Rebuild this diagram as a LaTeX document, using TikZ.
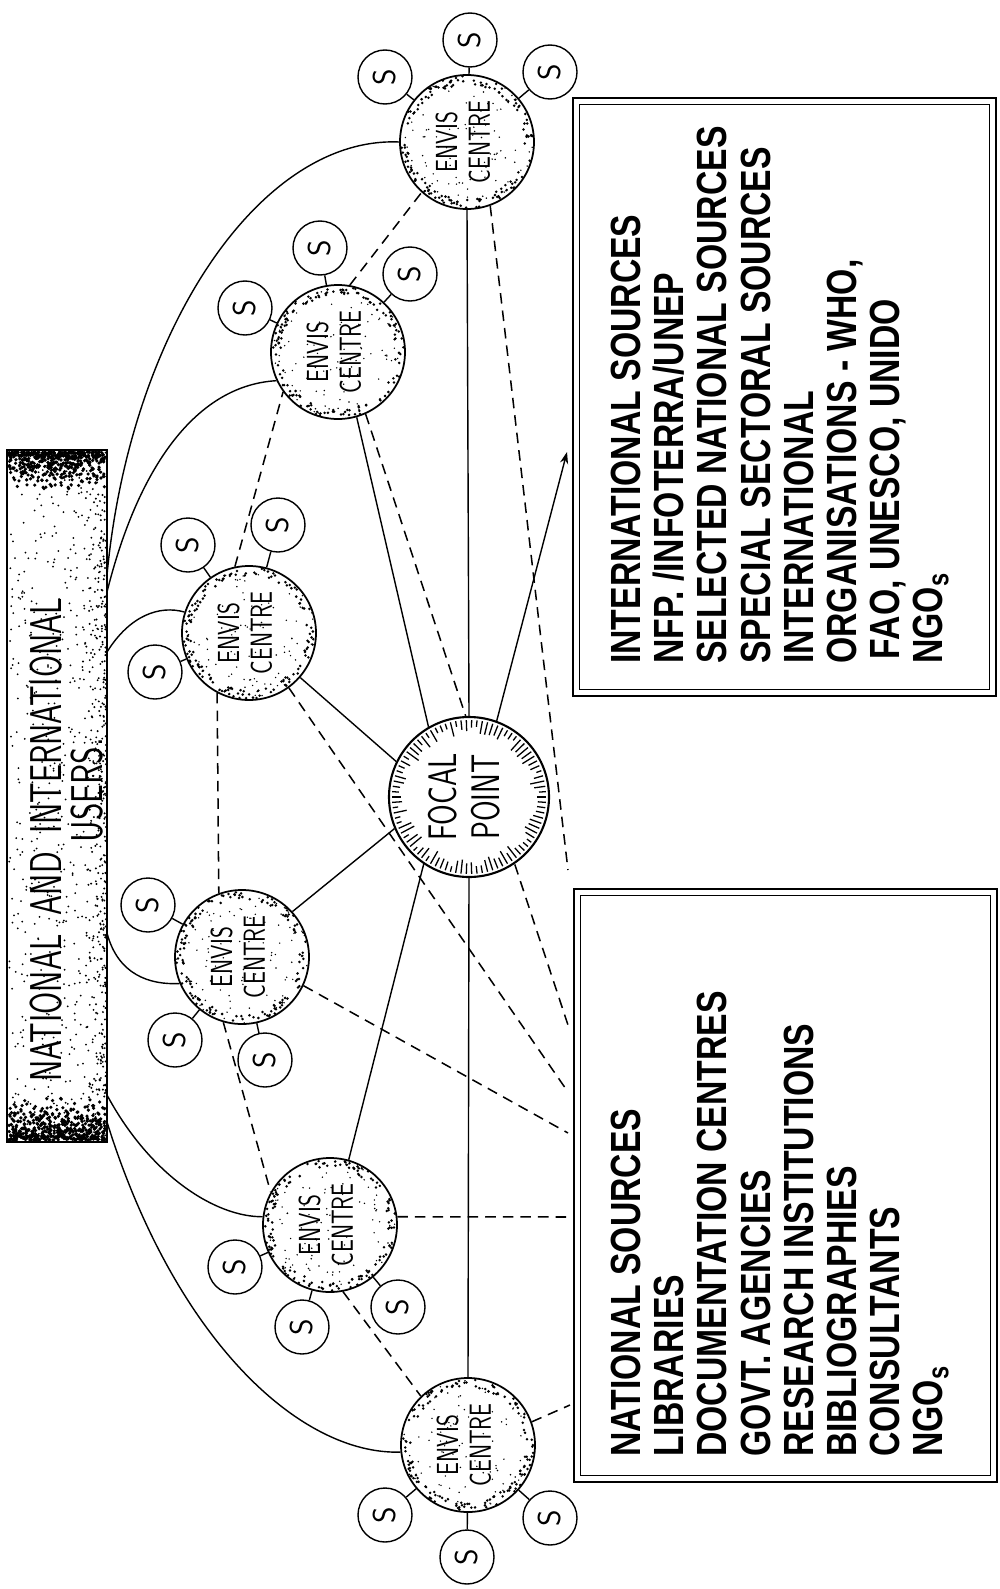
\documentclass[tikz,border=0pt]{standalone}
\usepackage{fontspec}
\usepackage{graphicx}
\usetikzlibrary{calc,arrows.meta}
\newfontfamily\boxfont[FakeStretch=0.8]{Liberation Sans}
\pgfdeclarelayer{conn}
\pgfsetlayers{conn,main}
\newcommand{\rimdots}[3]{%
  \foreach \k in {1,...,140}{%
    \pgfmathsetmacro{\aa}{360*rnd}%
    \pgfmathsetmacro{\rr}{#3*(1-0.13*rnd)}%
    \fill ({#1+\rr*cos(\aa)},{#2+\rr*sin(\aa)}) circle[radius=1.4];%
  }%
  \foreach \k in {1,...,90}{%
    \pgfmathsetmacro{\aa}{360*rnd}%
    \pgfmathsetmacro{\rr}{#3*sqrt(rnd)}%
    \fill ({#1+\rr*cos(\aa)},{#2+\rr*sin(\aa)}) circle[radius=0.8];%
  }}
\newcommand{\Srot}{\rotatebox{90}{S}}
\tikzset{
  ec/.style={circle, draw, line width=1.5pt, fill=white, minimum size=4.02cm, inner sep=0pt},
  sc/.style={circle, draw, line width=1.2pt, fill=white, minimum size=1.62cm, inner sep=0pt,
             font=\sffamily\fontsize{27}{27}\selectfont},
  fpc/.style={circle, draw, line width=1.8pt, fill=white, minimum size=4.8cm, inner sep=0pt},
  con/.style={line width=1.2pt},
  dsh/.style={line width=1.3pt, dash pattern=on 9pt off 6pt},
  etext/.style={rotate=90, inner sep=0pt, font=\sffamily\fontsize{26}{28}\selectfont},
  boxtext/.style={rotate=90, anchor=north west, align=left, inner sep=0pt,
                  font=\boxfont\bfseries\fontsize{36}{36.8}\selectfont},
  outerbox/.style={draw, line width=2.4pt, inner sep=0pt, minimum width=12.69cm},
}
\begin{document}
\begin{tikzpicture}[x=0.03cm, y=-0.03cm]
\useasboundingbox (0,0) rectangle (999,1589);
\pgfmathsetseed{7}

% ---------- boxes ----------
\node[draw, line width=1.5pt, minimum width=3cm, minimum height=20.76cm, inner sep=0pt] (users) at (57,796) {};
\node[outerbox, minimum height=17.94cm] (intbox) at (784.5,397) {};
\draw[line width=1.4pt] ($(intbox.north west)+(8,8)$) rectangle ($(intbox.south east)+(-8,-8)$);
\node[outerbox, minimum height=17.79cm] (natbox) at (785.5,1185.5) {};
\draw[line width=1.4pt] ($(natbox.north west)+(8,8)$) rectangle ($(natbox.south east)+(-8,-8)$);

% ---------- centres ----------
\node[ec] (e1) at (468,1445) {};
\node[ec] (e2) at (330,1225) {};
\node[ec] (e3) at (242,957) {};
\node[ec] (e4) at (249,633) {};
\node[ec] (e5) at (338,352) {};
\node[ec] (e6) at (467,142) {};
\node[fpc] (fp) at (469,797) {};

% ---------- sources ----------
\node[sc] (s1a) at (385,1515) {\Srot};
\node[sc] (s1b) at (467,1557) {\Srot};
\node[sc] (s1c) at (550,1518) {\Srot};
\node[sc] (s2a) at (235,1267) {\Srot};
\node[sc] (s2b) at (302,1327) {\Srot};
\node[sc] (s2c) at (398,1307) {\Srot};
\node[sc] (s3a) at (148,905) {\Srot};
\node[sc] (s3b) at (175,1040) {\Srot};
\node[sc] (s3c) at (265,1060) {\Srot};
\node[sc] (s4a) at (188,545) {\Srot};
\node[sc] (s4b) at (278,525) {\Srot};
\node[sc] (s4c) at (155,672) {\Srot};
\node[sc] (s5a) at (245,308) {\Srot};
\node[sc] (s5b) at (320,248) {\Srot};
\node[sc] (s5c) at (410,274) {\Srot};
\node[sc] (s6a) at (385,77) {\Srot};
\node[sc] (s6b) at (470,40) {\Srot};
\node[sc] (s6c) at (550,72) {\Srot};

% ---------- free ends ----------
\coordinate (u1) at (107,1122);
\coordinate (u2) at (107,1095);
\coordinate (u3) at (107,933);
\coordinate (u4) at (107,652);
\coordinate (u5) at (107,592);
\coordinate (u6) at (107,575);
\coordinate (c1) at (570,1405);
\coordinate (c2) at (570,1217);
\coordinate (c3) at (568,1133);
\coordinate (c4) at (568,1092);
\coordinate (c5) at (568,1025);
\coordinate (c6) at (568,870);
\coordinate (ia) at (567,452);

\begin{pgfonlayer}{conn}
% users curves
\draw[con] (u6) .. controls (130,330) and (260,136) .. (e6.west);
\draw[con] (u5) .. controls (140,460) and (200,385) .. (e5.205);
\draw[con] (u4) .. controls (130,615) and (160,605) .. (e4.162);
\draw[con] (u3) .. controls (118,975) and (150,985) .. (e3.203);
\draw[con] (u2) .. controls (150,1175) and (215,1217) .. (e2.173);
\draw[con] (u1) .. controls (175,1340) and (300,1455) .. (e1.186);
% focal point links
\draw[con] (e6.south) -- (fp.north);
\draw[con] (e5.286) -- (fp.120);
\draw[con] (e4.319) -- (fp.154);
\draw[con] (e3.42) -- (fp.203);
\draw[con] (fp.236) -- (e2.74);
\draw[con] (fp.south) -- (e1.north);
\draw[con, -{Stealth[length=10pt,width=7pt]}] (fp.70) -- (ia);
% dashed links between centres
\draw[dsh] (e4.242) -- (e3.110);
\draw[dsh] (e4.102) -- (e5.216);
\draw[dsh] (e5.80) -- (e6.228);
\draw[dsh] (e3.254) -- (e2.151);
\draw[dsh] (e2.281) -- (e1.134);
% dashed links to sources boxes
\draw[dsh] (e6.290) -- (c6);
\draw[dsh] (e5.294) -- (c5);
\draw[dsh] (e4.306) -- (c4);
\draw[dsh] (e3.335) -- (c3);
\draw[dsh] (e2.7) -- (c2);
\draw[dsh] (e1.20) -- (c1);
% stubs to sources
\foreach \e/\s in {e1/s1a,e1/s1b,e1/s1c,e2/s2a,e2/s2b,e2/s2c,e3/s3a,e3/s3b,e3/s3c,
                   e4/s4a,e4/s4b,e4/s4c,e5/s5a,e5/s5b,e5/s5c,e6/s6a,e6/s6b,e6/s6c}
  \draw[con] (\e) -- (\s);
\end{pgfonlayer}

% ---------- textures ----------
\rimdots{468}{1445}{66}
\rimdots{330}{1225}{66}
\rimdots{242}{957}{66}
\rimdots{249}{633}{66}
\rimdots{338}{352}{66}
\rimdots{467}{142}{66}
\foreach \a in {0,4,...,356}{%
  \pgfmathsetmacro{\ll}{5+10*rnd}%
  \draw[line width=1.1pt] ({469+77*cos(\a)},{797+77*sin(\a)}) -- ({469+(77-\ll)*cos(\a)},{797+(77-\ll)*sin(\a)});
}
\foreach \k in {1,...,500}{\fill ({9+96*rnd},{452+40*rnd*rnd}) circle[radius=1.8];}
\foreach \k in {1,...,500}{\fill ({9+96*rnd},{1140-45*rnd*rnd}) circle[radius=1.8];}
\foreach \k in {1,...,550}{\fill ({9+96*rnd},{452+688*rnd}) circle[radius=1.0];}
\foreach \k in {1,...,350}{\fill ({106-24*rnd*rnd},{452+688*rnd}) circle[radius=1.1];}

% ---------- texts ----------
\node[rotate=90, inner sep=0pt, font=\sffamily\fontsize{38}{38}\selectfont] (ut1) at (46,840) {\scalebox{0.72}[1]{NATIONAL\hspace{0.6em}AND\hspace{0.6em}INTERNATIONAL}};
\node[rotate=90, inner sep=0pt, font=\sffamily\fontsize{38}{38}\selectfont] (ut2) at (87,790) {\scalebox{0.75}[1]{USERS.}};
\foreach \n in {e1,e2,e3,e4,e5,e6}
  \node[etext] (t\n) at (\n) {\scalebox{0.75}[1]{\begin{tabular}{@{}c@{}}ENVIS\\CENTRE\end{tabular}}};
\node[rotate=90, inner sep=0pt, font=\sffamily\fontsize{34}{37}\selectfont] (fpt) at (fp) {\scalebox{0.75}[1]{\begin{tabular}{@{}c@{}}FOCAL\\POINT\end{tabular}}};

\node[boxtext] (nt) at (611,1457) {NATIONAL SOURCES\\LIBRARIES\\DOCUMENTATION CENTRES\\GOVT. AGENCIES\\RESEARCH INSTITUTIONS\\BIBLIOGRAPHIES\\CONSULTANTS\\NGO\textsubscript{s}};
\node[boxtext] (it) at (611,664) {INTERNATIONAL SOURCES\\NFP. /INFOTERRA/UNEP\\SELECTED NATIONAL SOURCES\\SPECIAL SECTORAL SOURCES\\INTERNATIONAL\\ORGANISATIONS - WHO,\\\hspace*{4pt}FAO, UNESCO, UNIDO\\NGO\textsubscript{s}};
\end{tikzpicture}
\end{document}
